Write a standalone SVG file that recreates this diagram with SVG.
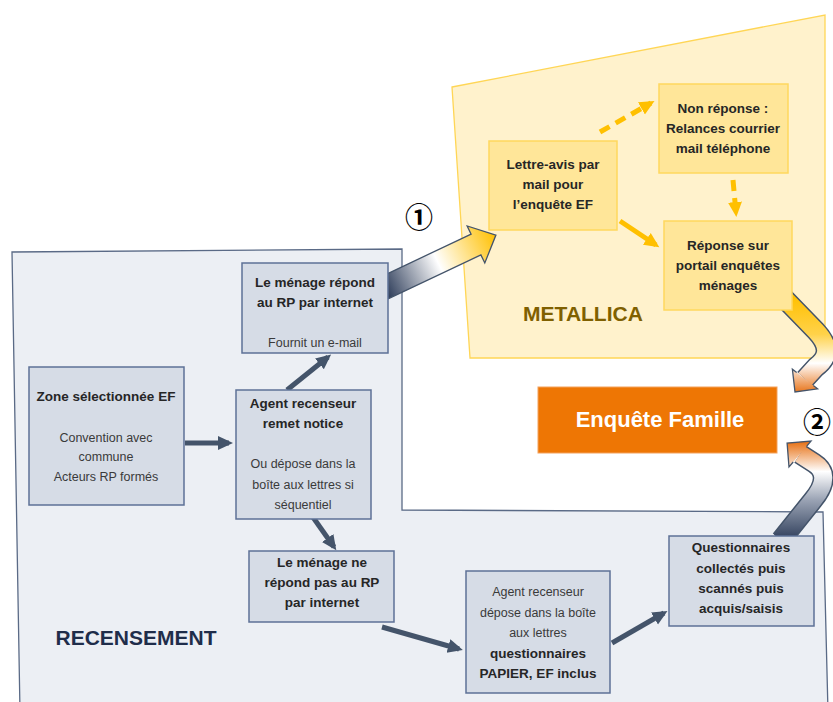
<svg xmlns="http://www.w3.org/2000/svg" width="833" height="702" viewBox="0 0 833 702">
<style>
.zone-rec{fill:#eceff4;stroke:#5a6a86;stroke-width:1.3}
.zone-met{fill:#fff2cc;stroke:#ffd656;stroke-width:1.3}
.nrec{fill:#d6dce6;stroke:#5d7196;stroke-width:1.5}
.nmet{fill:#ffe699;stroke:#ffd85e;stroke-width:1.5}
text{font-family:"Liberation Sans",Arial,sans-serif;text-anchor:middle;fill:#262626}
.b{font-weight:bold;font-size:13.5px}
.r{font-size:12.5px;fill:#3a3a3a}
.navy{fill:none;stroke:#44546a;stroke-width:5;marker-end:url(#mNavy)}
.gold{fill:none;stroke:#ffc000;stroke-width:5;marker-end:url(#mGold)}
.dash{stroke-dasharray:11 7}
.outl{fill:none;stroke:#44546a;stroke-width:1.3;stroke-linejoin:miter}
.num{font-family:"Noto Sans CJK JP","DejaVu Sans",sans-serif;font-weight:bold;font-size:28px;fill:#000000}
</style>
<defs>
<marker id="mNavy" markerUnits="userSpaceOnUse" markerWidth="16" markerHeight="16" viewBox="0 0 16 16" refX="11" refY="8" orient="auto"><path d="M0,1 L15,8 L0,15 z" fill="#44546a"/></marker>
<marker id="mGold" markerUnits="userSpaceOnUse" markerWidth="16" markerHeight="16" viewBox="0 0 16 16" refX="11" refY="8" orient="auto"><path d="M0,1 L15,8 L0,15 z" fill="#ffc000"/></marker>
<linearGradient id="g1" gradientUnits="userSpaceOnUse" x1="380" y1="290" x2="496" y2="235">
<stop offset="0" stop-color="#1f2f4e"/><stop offset="0.5" stop-color="#ffffff"/><stop offset="1" stop-color="#ffc000"/>
</linearGradient>
<linearGradient id="g2" gradientUnits="userSpaceOnUse" x1="0" y1="296" x2="0" y2="392">
<stop offset="0" stop-color="#ffc000"/><stop offset="0.4" stop-color="#ffd24a"/><stop offset="0.7" stop-color="#ffffff"/><stop offset="1" stop-color="#e8771f"/>
</linearGradient>
<linearGradient id="g3" gradientUnits="userSpaceOnUse" x1="0" y1="538" x2="0" y2="443">
<stop offset="0" stop-color="#34435f"/><stop offset="0.4" stop-color="#9aa3b4"/><stop offset="0.7" stop-color="#ffffff"/><stop offset="1" stop-color="#e8771f"/>
</linearGradient>
</defs>
<rect width="833" height="702" fill="#ffffff"/>
<g id="zone-recensement">
<polygon class="zone-rec" points="12,252 402,249 402,510 823,512 828,712 20,712"/>
<text x="136" y="645" style="font-weight:bold;font-size:21px;fill:#1f2d4a">RECENSEMENT</text>
</g>
<g id="zone-metallica">
<polygon class="zone-met" points="452,87 825,15 825,358 470,358"/>
<text x="583" y="321" style="font-weight:bold;font-size:21px;fill:#7f6000">METALLICA</text>
</g>
<g id="connectors">
<path class="navy" d="M185,443 L229,443"/>
<path class="navy" d="M287,390 L328,357"/>
<path class="navy" d="M310,513 L334,547"/>
<path class="navy" d="M382,627 L459,649"/>
<path class="navy" d="M612,643 L664,613"/>
<path class="gold dash" d="M600,132 L651,103"/>
<path class="gold dash" d="M733,180 L736,213"/>
<path class="gold" d="M620,221 L656,245"/>
<g id="arrow-1">
<polygon points="375.1,279.6 471.1,234.1 467.2,226 495.9,235.1 484.8,263 480.9,254.9 384.9,300.4" fill="url(#g1)" stroke="#44546a" stroke-width="1.3" stroke-linejoin="miter"/>
</g>
<g id="arrow-2a">
<path d="M782,296 L816,331 C831,347 828,358 816,367 L805,379" fill="none" stroke="#44546a" stroke-width="21"/>
<path d="M782,296 L816,331 C831,347 828,358 816,367 L805,379" fill="none" stroke="url(#g2)" stroke-width="18"/>
<polygon points="817.6,388.8 795,392 792.4,369.2" fill="url(#g2)"/>
<path class="outl" d="M796.7,372.6 L792.4,369.2 L795,392 L817.6,388.8 L813.3,385.4"/>
</g>
<g id="arrow-2b">
<path d="M781,540 L813,500 C828,482 825,470 814,463 L800,454" fill="none" stroke="#44546a" stroke-width="21"/>
<path d="M781,540 L813,500 C828,482 825,470 814,463 L800,454" fill="none" stroke="url(#g3)" stroke-width="18"/>
<polygon points="811,441.1 787.1,443 789,466.9" fill="url(#g3)"/>
<path class="outl" d="M806.8,446 L811,441.1 L787.1,443 L789,466.9 L793.2,462"/>
</g>
</g>
<g id="n-repond">
<rect class="nrec" x="242" y="263" width="146" height="90"/>
<text class="b" x="315" y="287">Le ménage répond</text>
<text class="b" x="315" y="307">au RP par internet</text>
<text class="r" x="315" y="347">Fournit un e-mail</text>
</g>
<g id="n-zone">
<rect class="nrec" x="29" y="367" width="155" height="138"/>
<text class="b" x="106" y="401">Zone sélectionnée EF</text>
<text class="r" x="106" y="442">Convention avec</text>
<text class="r" x="106" y="461">commune</text>
<text class="r" x="106" y="481">Acteurs RP formés</text>
</g>
<g id="n-agent1">
<rect class="nrec" x="236" y="390" width="135" height="129"/>
<text class="b" x="303" y="408">Agent recenseur</text>
<text class="b" x="303" y="428">remet notice</text>
<text class="r" x="303" y="468">Ou dépose dans la</text>
<text class="r" x="303" y="489">boîte aux lettres si</text>
<text class="r" x="303" y="509">séquentiel</text>
</g>
<g id="n-nerepond">
<rect class="nrec" x="249" y="551" width="145" height="71"/>
<text class="b" x="322" y="567">Le ménage ne</text>
<text class="b" x="322" y="587">répond pas au RP</text>
<text class="b" x="322" y="607">par internet</text>
</g>
<g id="n-agent2">
<rect class="nrec" x="466" y="571" width="144" height="122"/>
<text class="r" x="538" y="596">Agent recenseur</text>
<text class="r" x="538" y="617">dépose dans la boîte</text>
<text class="r" x="538" y="637">aux lettres</text>
<text class="b" x="538" y="658">questionnaires</text>
<text class="b" x="538" y="678">PAPIER, EF inclus</text>
</g>
<g id="n-questionnaires">
<rect class="nrec" x="669" y="536" width="145" height="90"/>
<text class="b" x="741" y="552">Questionnaires</text>
<text class="b" x="741" y="573">collectés puis</text>
<text class="b" x="741" y="593">scannés puis</text>
<text class="b" x="741" y="613">acquis/saisis</text>
</g>
<g id="n-lettre">
<rect class="nmet" x="489" y="141" width="128" height="89"/>
<text class="b" x="553" y="169">Lettre-avis par</text>
<text class="b" x="553" y="189">mail pour</text>
<text class="b" x="553" y="209">l’enquête EF</text>
</g>
<g id="n-nonreponse">
<rect class="nmet" x="659" y="84" width="129" height="89"/>
<text class="b" x="723" y="113">Non réponse :</text>
<text class="b" x="723" y="133">Relances courrier</text>
<text class="b" x="723" y="153">mail téléphone</text>
</g>
<g id="n-reponse">
<rect class="nmet" x="664" y="221" width="128" height="89"/>
<text class="b" x="728" y="250">Réponse sur</text>
<text class="b" x="728" y="270">portail enquêtes</text>
<text class="b" x="728" y="290">ménages</text>
</g>
<g id="n-enquete">
<rect x="538" y="387" width="239" height="66" fill="#ee7604" stroke="#f3a15c" stroke-width="1"/>
<text x="660" y="427" style="font-weight:bold;font-size:22px;fill:#ffffff">Enquête Famille</text>
</g>
<g id="labels">
<text class="num" x="419" y="228">①</text>
<text class="num" x="817" y="433">②</text>
</g>
</svg>
